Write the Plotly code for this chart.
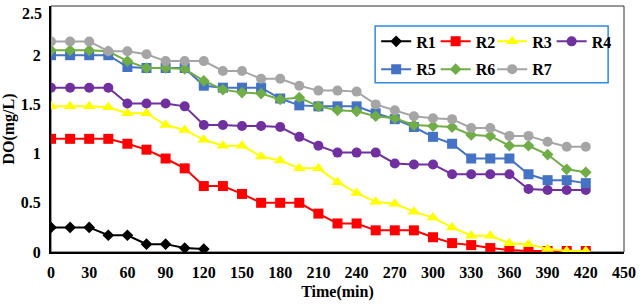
import plotly.graph_objects as go

time = [0, 15, 30, 45, 60, 75, 90, 105, 120, 135, 150, 165, 180, 195, 210,
        225, 240, 255, 270, 285, 300, 315, 330, 345, 360, 375, 390, 405, 420]

r1 = [0.25, 0.25, 0.25, 0.17, 0.17, 0.08, 0.08, 0.04, 0.03]
r2 = [1.15, 1.15, 1.15, 1.15, 1.10, 1.04, 0.95, 0.85, 0.67, 0.67, 0.59, 0.50, 0.50, 0.50, 0.39,
      0.29, 0.29, 0.22, 0.22, 0.22, 0.15, 0.09, 0.07, 0.04, 0.02, 0.01, 0.01, 0.01, 0.01]
r3 = [1.48, 1.48, 1.48, 1.47, 1.41, 1.41, 1.29, 1.24, 1.14, 1.08, 1.08, 0.97, 0.93, 0.85, 0.85,
      0.71, 0.60, 0.51, 0.49, 0.41, 0.35, 0.25, 0.165, 0.165, 0.09, 0.08, 0.03, 0.01, 0.01]
r4 = [1.67, 1.67, 1.67, 1.67, 1.51, 1.51, 1.51, 1.48, 1.29, 1.29, 1.28, 1.28, 1.27, 1.17, 1.08,
      1.01, 1.01, 1.01, 0.90, 0.89, 0.89, 0.79, 0.79, 0.79, 0.79, 0.64, 0.63, 0.63, 0.63]
r5 = [2.00, 2.00, 2.00, 2.00, 1.88, 1.87, 1.87, 1.87, 1.69, 1.67, 1.67, 1.67, 1.56, 1.49, 1.48,
      1.48, 1.48, 1.41, 1.35, 1.27, 1.17, 1.10, 0.95, 0.95, 0.95, 0.79, 0.73, 0.73, 0.70]
r6 = [2.05, 2.05, 2.05, 2.04, 1.94, 1.87, 1.87, 1.86, 1.74, 1.65, 1.62, 1.61, 1.55, 1.57, 1.48,
      1.44, 1.43, 1.38, 1.36, 1.29, 1.28, 1.27, 1.19, 1.18, 1.08, 1.08, 0.99, 0.84, 0.81]
r7 = [2.14, 2.14, 2.14, 2.04, 2.04, 2.01, 1.94, 1.94, 1.94, 1.84, 1.84, 1.76, 1.76, 1.69, 1.64,
      1.64, 1.63, 1.50, 1.44, 1.38, 1.36, 1.35, 1.26, 1.26, 1.18, 1.18, 1.12, 1.07, 1.07]

y_ticks = [0, 0.5, 1, 1.5, 2]
y_tick_labels = ["0", "0.5", "1", "1.5", "2"]
y_top = 2.5
y_top_label = "2.5"

names = ["R1", "R2", "R3", "R4", "R5", "R6", "R7"]
series = [r1, r2, r3, r4, r5, r6, r7]
colors = ["#000000", "#FF0000", "#FFFF00", "#7030A0", "#4472C4", "#70AD47", "#A5A5A5"]
symbols = ["diamond", "square", "triangle-up", "circle", "square", "diamond", "circle"]
sizes = [9, 10, 11, 10, 10, 9, 10]

font_family = "Liberation Serif"

# legend grid: 4 columns x 2 rows inside one framed box
leg_cols = [0.5675, 0.6713, 0.7699, 0.8737]
leg_rows = [0.925, 0.812]

fig = go.Figure()
legends = {}
for i, (n, s, c, sym, sz) in enumerate(zip(names, series, colors, symbols, sizes)):
    key = "legend" if i == 0 else f"legend{i + 1}"
    fig.add_trace(go.Scatter(
        x=time[:len(s)], y=s, name=n, mode="lines+markers",
        line=dict(color=c, width=2),
        marker=dict(color=c, symbol=sym, size=sz),
        legend=key, showlegend=True,
    ))
    legends[key] = dict(
        x=leg_cols[i % 4], y=leg_rows[i // 4], xanchor="left", yanchor="top",
        bgcolor="rgba(0,0,0,0)", borderwidth=0, itemwidth=30, visible=True,
        font=dict(family=font_family, size=16, color="black", weight="bold"),
    )

axis_common = dict(
    showgrid=False, zeroline=False, showline=True, linecolor="black", linewidth=2,
    ticks="outside", ticklen=5, tickcolor="rgba(0,0,0,0)",
    tickfont=dict(family=font_family, size=16, color="black", weight="bold"),
)

fig.update_layout(
    width=642, height=304,
    margin=dict(l=50, r=14, t=6, b=51),
    paper_bgcolor="white", plot_bgcolor="white",
    showlegend=True,
    font=dict(family=font_family, size=16, color="black"),
    xaxis=dict(range=[0, 450], dtick=30, tick0=0,
               title=dict(text="<b>Time(min)</b>", font=dict(family=font_family, size=16), standoff=6),
               **axis_common),
    yaxis=dict(range=[0, y_top], tickmode="array", tickvals=y_ticks, ticktext=y_tick_labels,
               title=dict(text="<b>DO(mg/L)</b>", font=dict(family=font_family, size=16), standoff=4),
               **axis_common),
    annotations=[dict(text=y_top_label, xref="paper", x=0, xanchor="right", xshift=-7,
                      yref="y", y=y_top, yanchor="top", yshift=3, showarrow=False,
                      font=dict(family=font_family, size=16, color="black", weight="bold"))],
    shapes=[
        dict(type="rect", xref="x domain", yref="y domain", x0=0, x1=1, y0=0, y1=1,
             line=dict(color="#333333", width=1), layer="below"),
        dict(type="rect", xref="paper", yref="paper", x0=0.5657, x1=0.9723, y0=0.688, y1=0.919,
             line=dict(color="#2E8BE0", width=1.5), fillcolor="white", layer="above"),
    ],
    **legends,
)

fig.write_html("out.html")
